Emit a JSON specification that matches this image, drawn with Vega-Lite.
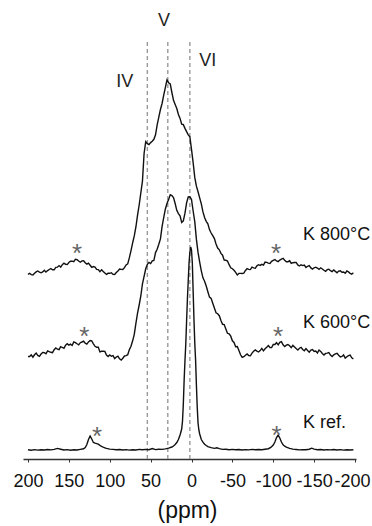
{
"$schema":"https://vega.github.io/schema/vega-lite/v6.json",
"width":333,"height":459,
"autosize":{"type":"none"},
"padding":{"left":23,"top":0,"right":16,"bottom":67},
"background":"white",
"config":{"view":{"stroke":null}},
"datasets":{
"heated":[
{"ppm":200,"k800":184.7,"k600":102.5},{"ppm":198,"k800":185.7,"k600":102.4},{"ppm":196,"k800":184.4,"k600":104.1},{"ppm":194,"k800":184.0,"k600":101.8},{"ppm":192,"k800":185.8,"k600":104.2},{"ppm":190,"k800":187.1,"k600":105.9},{"ppm":188,"k800":188.0,"k600":103.6},{"ppm":186,"k800":186.9,"k600":102.7},{"ppm":184,"k800":186.2,"k600":105.0},{"ppm":182,"k800":187.1,"k600":106.6},
{"ppm":180,"k800":188.8,"k600":106.3},{"ppm":178,"k800":186.9,"k600":105.2},{"ppm":176,"k800":188.4,"k600":108.2},{"ppm":174,"k800":189.5,"k600":107.4},{"ppm":172,"k800":190.5,"k600":106.7},{"ppm":170,"k800":189.2,"k600":106.3},{"ppm":168,"k800":189.2,"k600":109.3},{"ppm":166,"k800":191.6,"k600":111.0},{"ppm":164,"k800":191.8,"k600":109.8},{"ppm":162,"k800":193.4,"k600":109.4},
{"ppm":160,"k800":191.9,"k600":112.4},{"ppm":158,"k800":194.3,"k600":111.5},{"ppm":156,"k800":195.9,"k600":110.7},{"ppm":154,"k800":194.7,"k600":113.9},{"ppm":152,"k800":194.4,"k600":115.3},{"ppm":150,"k800":196.5,"k600":113.8},{"ppm":148,"k800":197.8,"k600":114.8},{"ppm":146,"k800":197.9,"k600":113.5},{"ppm":144,"k800":197.4,"k600":117.1},{"ppm":142,"k800":199.8,"k600":116.4},
{"ppm":140,"k800":199.4,"k600":115.2},{"ppm":138,"k800":198.0,"k600":114.1},{"ppm":136,"k800":196.8,"k600":116.3},{"ppm":134,"k800":198.1,"k600":117.0},{"ppm":132,"k800":198.3,"k600":117.8},{"ppm":130,"k800":196.3,"k600":115.8},{"ppm":128,"k800":194.8,"k600":114.9},{"ppm":126,"k800":195.9,"k600":117.1},{"ppm":124,"k800":193.8,"k600":118.4},{"ppm":122,"k800":191.7,"k600":118.1},
{"ppm":120,"k800":192.5,"k600":115.2},{"ppm":118,"k800":192.0,"k600":112.7},{"ppm":116,"k800":189.6,"k600":111.7},{"ppm":114,"k800":189.4,"k600":111.8},{"ppm":112,"k800":187.4,"k600":107.1},{"ppm":110,"k800":189.2,"k600":107.7},{"ppm":108,"k800":187.6,"k600":107.8},{"ppm":106,"k800":185.9,"k600":107.6},{"ppm":104,"k800":184.6,"k600":104.0},{"ppm":102,"k800":185.7,"k600":102.5},
{"ppm":100,"k800":185.7,"k600":104.0},{"ppm":98,"k800":186.3,"k600":102.8},{"ppm":96,"k800":184.6,"k600":103.3},{"ppm":94,"k800":184.5,"k600":100.3},{"ppm":92,"k800":186.5,"k600":101.9},{"ppm":90,"k800":188.1,"k600":102.9},{"ppm":88,"k800":189.9,"k600":100.2},{"ppm":86,"k800":189.6,"k600":98.9},{"ppm":84,"k800":189.5,"k600":100.8},{"ppm":82,"k800":191.3,"k600":103.0},
{"ppm":80,"k800":194.1,"k600":103.3},{"ppm":78,"k800":195.1,"k600":104.3},{"ppm":76,"k800":201.3,"k600":109.4},{"ppm":74,"k800":208.4,"k600":112.8},{"ppm":72,"k800":216.2,"k600":118.2},{"ppm":70,"k800":223.1,"k600":124.7},{"ppm":68,"k800":232.0,"k600":135.6},{"ppm":66,"k800":243.9,"k600":145.8},{"ppm":64,"k800":254.0,"k600":154.0},{"ppm":62,"k800":266.0,"k600":163.0},
{"ppm":60,"k800":277.9,"k600":175.1},{"ppm":58,"k800":305.5,"k600":182.7},{"ppm":56,"k800":317.4,"k600":190.2},{"ppm":54,"k800":315.4,"k600":194.6},{"ppm":52,"k800":314.4,"k600":196.6},{"ppm":50,"k800":316.4,"k600":195.5},{"ppm":48,"k800":317.7,"k600":198.2},{"ppm":46,"k800":319.7,"k600":198.6},{"ppm":44,"k800":324.2,"k600":206.4},{"ppm":42,"k800":334.2,"k600":209.8},
{"ppm":40,"k800":341.9,"k600":214.7},{"ppm":38,"k800":349.5,"k600":220.1},{"ppm":36,"k800":355.5,"k600":232.3},{"ppm":34,"k800":363.9,"k600":241.3},{"ppm":32,"k800":371.3,"k600":249.8},{"ppm":30,"k800":379.0,"k600":255.5},{"ppm":28,"k800":376.3,"k600":259.4},{"ppm":26,"k800":375.1,"k600":264.3},{"ppm":24,"k800":366.5,"k600":263.4},{"ppm":22,"k800":358.7,"k600":261.4},
{"ppm":20,"k800":354.5,"k600":255.5},{"ppm":18,"k800":350.5,"k600":248.7},{"ppm":16,"k800":344.6,"k600":245.4},{"ppm":14,"k800":340.6,"k600":243.1},{"ppm":12,"k800":334.9,"k600":236.6},{"ppm":10,"k800":334.4,"k600":238.2},{"ppm":8,"k800":330.6,"k600":245.8},{"ppm":6,"k800":327.4,"k600":256.1},{"ppm":4,"k800":324.1,"k600":262.0},{"ppm":2,"k800":322.2,"k600":262.2},
{"ppm":0,"k800":309.7,"k600":259.5},{"ppm":-2,"k800":296.3,"k600":248.0},{"ppm":-4,"k800":281.6,"k600":237.3},{"ppm":-6,"k800":272.8,"k600":219.6},{"ppm":-8,"k800":267.2,"k600":206.6},{"ppm":-10,"k800":261.1,"k600":196.9},{"ppm":-12,"k800":255.1,"k600":188.2},{"ppm":-14,"k800":247.1,"k600":181.2},{"ppm":-16,"k800":241.6,"k600":177.8},{"ppm":-18,"k800":237.7,"k600":173.0},
{"ppm":-20,"k800":235.2,"k600":167.3},{"ppm":-22,"k800":229.4,"k600":161.9},{"ppm":-24,"k800":226.0,"k600":160.6},{"ppm":-26,"k800":223.4,"k600":155.7},{"ppm":-28,"k800":220.4,"k600":150.9},{"ppm":-30,"k800":215.1,"k600":146.2},{"ppm":-32,"k800":210.9,"k600":145.3},{"ppm":-34,"k800":209.2,"k600":143.3},{"ppm":-36,"k800":205.6,"k600":138.5},{"ppm":-38,"k800":203.8,"k600":134.7},
{"ppm":-40,"k800":198.9,"k600":134.4},{"ppm":-42,"k800":198.8,"k600":130.0},{"ppm":-44,"k800":198.0,"k600":125.7},{"ppm":-46,"k800":194.3,"k600":125.1},{"ppm":-48,"k800":191.2,"k600":122.8},{"ppm":-50,"k800":190.3,"k600":118.2},{"ppm":-52,"k800":188.7,"k600":116.5},{"ppm":-54,"k800":186.6,"k600":112.3},{"ppm":-56,"k800":184.0,"k600":112.5},{"ppm":-58,"k800":185.6,"k600":108.6},
{"ppm":-60,"k800":185.6,"k600":104.2},{"ppm":-62,"k800":185.5,"k600":101.6},{"ppm":-64,"k800":185.8,"k600":102.3},{"ppm":-66,"k800":188.6,"k600":103.7},{"ppm":-68,"k800":190.3,"k600":105.1},{"ppm":-70,"k800":189.6,"k600":103.5},{"ppm":-72,"k800":189.4,"k600":103.2},{"ppm":-74,"k800":191.8,"k600":105.9},{"ppm":-76,"k800":191.1,"k600":107.7},{"ppm":-78,"k800":190.7,"k600":109.1},
{"ppm":-80,"k800":193.2,"k600":107.9},{"ppm":-82,"k800":194.3,"k600":107.0},{"ppm":-84,"k800":193.6,"k600":108.4},{"ppm":-86,"k800":194.6,"k600":110.6},{"ppm":-88,"k800":193.9,"k600":108.1},{"ppm":-90,"k800":196.9,"k600":110.2},{"ppm":-92,"k800":196.6,"k600":111.8},{"ppm":-94,"k800":195.9,"k600":113.4},{"ppm":-96,"k800":195.6,"k600":111.5},{"ppm":-98,"k800":197.7,"k600":111.4},
{"ppm":-100,"k800":198.7,"k600":114.5},{"ppm":-102,"k800":199.5,"k600":114.5},{"ppm":-104,"k800":198.0,"k600":116.3},{"ppm":-106,"k800":197.4,"k600":114.1},{"ppm":-108,"k800":198.9,"k600":116.6},{"ppm":-110,"k800":199.9,"k600":117.4},{"ppm":-112,"k800":200.6,"k600":114.2},{"ppm":-114,"k800":198.7,"k600":112.4},{"ppm":-116,"k800":197.2,"k600":113.8},{"ppm":-118,"k800":197.3,"k600":114.5},
{"ppm":-120,"k800":198.2,"k600":113.3},{"ppm":-122,"k800":195.6,"k600":111.4},{"ppm":-124,"k800":196.3,"k600":113.6},{"ppm":-126,"k800":196.5,"k600":112.0},{"ppm":-128,"k800":196.6,"k600":110.4},{"ppm":-130,"k800":194.1,"k600":108.9},{"ppm":-132,"k800":193.0,"k600":110.8},{"ppm":-134,"k800":194.2,"k600":111.6},{"ppm":-136,"k800":193.4,"k600":109.5},{"ppm":-138,"k800":194.0,"k600":108.3},
{"ppm":-140,"k800":191.5,"k600":110.4},{"ppm":-142,"k800":192.7,"k600":108.5},{"ppm":-144,"k800":193.3,"k600":106.8},{"ppm":-146,"k800":191.1,"k600":109.0},{"ppm":-148,"k800":189.9,"k600":109.5},{"ppm":-150,"k800":191.2,"k600":107.5},{"ppm":-152,"k800":191.8,"k600":107.9},{"ppm":-154,"k800":191.0,"k600":106.0},{"ppm":-156,"k800":189.6,"k600":109.0},{"ppm":-158,"k800":191.2,"k600":107.6},
{"ppm":-160,"k800":190.0,"k600":105.5},{"ppm":-162,"k800":188.7,"k600":103.9},{"ppm":-164,"k800":187.7,"k600":105.6},{"ppm":-166,"k800":189.3,"k600":105.9},{"ppm":-168,"k800":189.8,"k600":106.4},{"ppm":-170,"k800":188.3,"k600":103.9},{"ppm":-172,"k800":187.4,"k600":102.5},{"ppm":-174,"k800":189.0,"k600":104.2},{"ppm":-176,"k800":187.6,"k600":105.2},{"ppm":-178,"k800":186.3,"k600":105.7},
{"ppm":-180,"k800":187.9,"k600":103.7},{"ppm":-182,"k800":188.3,"k600":102.0},{"ppm":-184,"k800":186.7,"k600":102.5},{"ppm":-186,"k800":187.0,"k600":104.0},{"ppm":-188,"k800":185.7,"k600":100.9},{"ppm":-190,"k800":188.0,"k600":102.3},{"ppm":-192,"k800":187.1,"k600":103.3},{"ppm":-194,"k800":185.7,"k600":103.9},{"ppm":-196,"k800":184.8,"k600":101.2},{"ppm":-198,"k800":186.2,"k600":100.2}
],
"ref":[
{"ppm":200,"v":9.2},{"ppm":196,"v":8.8},{"ppm":192,"v":9.4},{"ppm":188,"v":8.9},{"ppm":184,"v":9.3},{"ppm":180,"v":9.0},{"ppm":176,"v":9.5},{"ppm":172,"v":9.1},{"ppm":168,"v":9.6},{"ppm":164,"v":10.6},{"ppm":160,"v":9.8},{"ppm":156,"v":9.0},{"ppm":152,"v":9.4},{"ppm":148,"v":8.8},{"ppm":144,"v":9.3},{"ppm":140,"v":9.0},{"ppm":136,"v":9.6},{"ppm":132,"v":10.2},{"ppm":130,"v":11.5},{"ppm":128,"v":14.5},{"ppm":126,"v":19.5},{"ppm":124,"v":23.0},{"ppm":122,"v":20.0},{"ppm":120,"v":16.5},{"ppm":118,"v":15.8},{"ppm":116,"v":15.4},{"ppm":114,"v":14.8},{"ppm":112,"v":13.6},{"ppm":110,"v":12.5},{"ppm":108,"v":11.8},{"ppm":106,"v":11.2},{"ppm":104,"v":10.6},{"ppm":100,"v":9.9},{"ppm":96,"v":9.6},{"ppm":92,"v":9.2},{"ppm":88,"v":9.5},{"ppm":84,"v":9.0},{"ppm":80,"v":9.4},{"ppm":76,"v":8.9},{"ppm":72,"v":9.3},{"ppm":68,"v":9.0},{"ppm":64,"v":9.6},{"ppm":60,"v":9.2},{"ppm":56,"v":9.6},{"ppm":52,"v":9.3},{"ppm":48,"v":10.4},{"ppm":44,"v":9.4},{"ppm":40,"v":9.8},{"ppm":36,"v":9.6},{"ppm":32,"v":10.1},{"ppm":28,"v":10.8},{"ppm":24,"v":12.0},{"ppm":22,"v":13.0},{"ppm":20,"v":14.5},{"ppm":18,"v":16.5},{"ppm":16,"v":19.5},{"ppm":14,"v":24.0},{"ppm":12,"v":30.0},{"ppm":11,"v":38.0},{"ppm":10,"v":55.0},{"ppm":9,"v":79.0},{"ppm":8,"v":98.0},{"ppm":7,"v":115.0},{"ppm":6,"v":138.0},{"ppm":5,"v":160.0},{"ppm":4,"v":178.0},{"ppm":3,"v":196.0},{"ppm":2,"v":207.0},{"ppm":1,"v":212.0},{"ppm":0,"v":209.0},{"ppm":-1,"v":196.0},{"ppm":-2,"v":168.0},{"ppm":-3,"v":140.0},{"ppm":-4,"v":116.0},{"ppm":-5,"v":99.0},{"ppm":-6,"v":74.0},{"ppm":-7,"v":52.0},{"ppm":-8,"v":36.0},{"ppm":-9,"v":29.0},{"ppm":-10,"v":25.0},{"ppm":-12,"v":19.5},{"ppm":-14,"v":16.8},{"ppm":-16,"v":14.8},{"ppm":-18,"v":13.5},{"ppm":-20,"v":12.4},{"ppm":-24,"v":11.4},{"ppm":-28,"v":10.6},{"ppm":-31,"v":11.2},{"ppm":-34,"v":10.3},{"ppm":-38,"v":9.6},{"ppm":-42,"v":9.8},{"ppm":-46,"v":9.3},{"ppm":-50,"v":9.6},{"ppm":-54,"v":9.2},{"ppm":-58,"v":9.5},{"ppm":-62,"v":9.0},{"ppm":-66,"v":9.4},{"ppm":-70,"v":9.1},{"ppm":-74,"v":9.6},{"ppm":-78,"v":9.2},{"ppm":-82,"v":9.5},{"ppm":-86,"v":9.3},{"ppm":-90,"v":9.8},{"ppm":-94,"v":10.3},{"ppm":-97,"v":11.5},{"ppm":-100,"v":14.0},{"ppm":-102,"v":17.0},{"ppm":-104,"v":21.5},{"ppm":-106,"v":24.0},{"ppm":-108,"v":21.0},{"ppm":-110,"v":17.0},{"ppm":-112,"v":14.2},{"ppm":-114,"v":12.8},{"ppm":-116,"v":11.8},{"ppm":-120,"v":10.6},{"ppm":-124,"v":9.9},{"ppm":-128,"v":9.5},{"ppm":-132,"v":9.1},{"ppm":-136,"v":9.4},{"ppm":-140,"v":9.2},{"ppm":-144,"v":9.8},{"ppm":-147,"v":10.8},{"ppm":-150,"v":9.9},{"ppm":-154,"v":9.2},{"ppm":-158,"v":9.5},{"ppm":-162,"v":9.0},{"ppm":-166,"v":9.4},{"ppm":-170,"v":9.1},{"ppm":-174,"v":9.5},{"ppm":-178,"v":9.0},{"ppm":-182,"v":9.4},{"ppm":-186,"v":8.9},{"ppm":-190,"v":9.3},{"ppm":-194,"v":9.0},{"ppm":-198,"v":9.2}
]
},
"encoding":{
"x":{"field":"ppm","type":"quantitative","scale":{"domain":[206.1,-201.2],"nice":false,"zero":false},
"axis":{"values":[200,150,100,50,0,-50,-100,-150,-200],"labelExpr":"'' + datum.value","grid":false,"domainColor":"#333","domainWidth":1.5,"tickColor":"#333","tickSize":3,"tickWidth":1,
"labelFont":"Liberation Sans","labelFontSize":18,"labelColor":"#111","labelBaseline":"alphabetic","labelPadding":24,"labelOverlap":false,"labelFlush":false,
"labelOffset":{"condition":{"test":"datum.value == -200","value":-3},"value":0},
"title":"(ppm)","titleFont":"Liberation Sans","titleFontSize":23,"titleFontWeight":"normal","titleColor":"#111","titleBaseline":"alphabetic","titleY":58,"titleX":164}}
},
"layer":[
{"data":{"values":[{"ppm":54,"top":417,"bot":0},{"ppm":29,"top":417,"bot":0},{"ppm":2,"top":417,"bot":0}]},
"mark":{"type":"rule","color":"#999","strokeWidth":1.4,"strokeDash":[4,3]},
"encoding":{"y":{"field":"top","type":"quantitative","scale":{"domain":[0,459]},"axis":null},"y2":{"field":"bot"}}},
{"data":{"name":"heated"},"mark":{"type":"line","color":"#111","strokeWidth":1.4,"interpolate":"linear"},
"encoding":{"y":{"field":"k800","type":"quantitative","scale":{"domain":[0,459]},"axis":null}}},
{"data":{"name":"heated"},"mark":{"type":"line","color":"#111","strokeWidth":1.4,"interpolate":"linear"},
"encoding":{"y":{"field":"k600","type":"quantitative","scale":{"domain":[0,459]},"axis":null}}},
{"data":{"name":"ref"},"mark":{"type":"line","color":"#111","strokeWidth":1.4,"interpolate":"linear"},
"encoding":{"y":{"field":"v","type":"quantitative","scale":{"domain":[0,459]},"axis":null}}},
{"data":{"values":[{"ppm":-136.4,"y":219,"label":"K 800°C"},{"ppm":-136.4,"y":131,"label":"K 600°C"},{"ppm":-136.4,"y":31,"label":"K ref."}]},
"mark":{"type":"text","align":"left","baseline":"alphabetic","font":"Liberation Sans","fontSize":18,"color":"#111"},
"encoding":{"y":{"field":"y","type":"quantitative","scale":{"domain":[0,459]},"axis":null},"text":{"field":"label"}}},
{"data":{"values":[{"ppm":81.5,"y":372,"label":"IV"},{"ppm":33.6,"y":433,"label":"V"},{"ppm":-20,"y":393,"label":"VI"}]},
"mark":{"type":"text","align":"center","baseline":"alphabetic","font":"Liberation Sans","fontSize":18,"color":"#222"},
"encoding":{"y":{"field":"y","type":"quantitative","scale":{"domain":[0,459]},"axis":null},"text":{"field":"label"}}},
{"data":{"values":[{"ppm":140,"y":212,"label":"*"},{"ppm":-103.4,"y":212,"label":"*"},{"ppm":131,"y":129,"label":"*"},{"ppm":-106,"y":129,"label":"*"},{"ppm":115.6,"y":29,"label":"*"},{"ppm":-104,"y":30,"label":"*"}]},
"mark":{"type":"text","align":"center","baseline":"middle","dy":7,"font":"Liberation Sans","fontSize":26,"color":"#666"},
"encoding":{"y":{"field":"y","type":"quantitative","scale":{"domain":[0,459]},"axis":null},"text":{"field":"label"}}}
]
}
